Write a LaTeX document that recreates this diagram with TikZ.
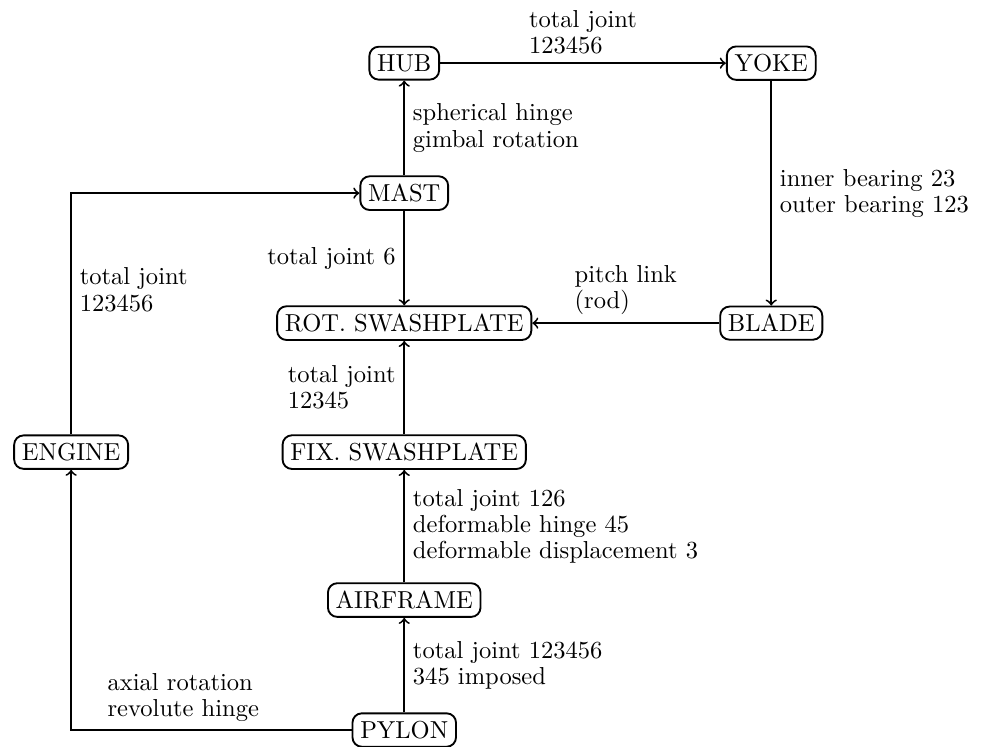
\documentclass[tikz,border=0pt]{standalone}
\usetikzlibrary{positioning}
\begin{document}
\begin{tikzpicture}[
  font=\fontsize{10.5}{11.2}\selectfont,
  part/.style={draw, thick, rounded corners},
  joint/.style={->, thick},
  lbl/.style={align=left},
  on grid,
]
\useasboundingbox (0,0) rectangle (14.86,-11.23);

% Rotor side
\node[part] (hub) at (6.08,-0.95) {HUB};
\node[part, right=5.52cm of hub] (yoke) {YOKE};
\node[part, below=1.955cm of hub] (mast) {MAST};
\node[part, below=1.955cm of mast] (rotsw) {ROT. SWASHPLATE};
\node[part, below=3.91cm of yoke] (blade) {BLADE};

% Fixed side
\node[part, below=1.94cm of rotsw] (fixsw) {FIX. SWASHPLATE};
\node[part, left=5.01cm of fixsw] (engine) {ENGINE};
\node[part, below=2.225cm of fixsw] (airframe) {AIRFRAME};
\node[part, below=1.955cm of airframe] (pylon) {PYLON};

% Joints between parts
\draw[joint] (hub) -- node[lbl, above] {total joint\\123456} (yoke);
\draw[joint] (yoke) -- node[lbl, right] {inner bearing 23\\outer bearing 123} (blade);
\draw[joint] (blade) -- node[lbl, above] {pitch link\\(rod)} (rotsw);
\draw[joint] (mast) -- node[lbl, right] {spherical hinge\\gimbal rotation} (hub);
\draw[joint] (mast) -- node[lbl, left] {total joint 6} (rotsw);
\draw[joint] (engine) |- node[lbl, pos=0.3, right] {total joint\\123456} (mast);
\draw[joint] (fixsw) -- node[lbl, left] {total joint\\12345} (rotsw);
\draw[joint] (airframe) -- node[lbl, right] {total joint 126\\deformable hinge 45\\deformable displacement 3} (fixsw);
\draw[joint] (pylon) -- node[lbl, right] {total joint 123456\\345 imposed} (airframe);
\draw[joint] (pylon) -| node[lbl, pos=0.3, above] {axial rotation\\revolute hinge} (engine);

\end{tikzpicture}
\end{document}
